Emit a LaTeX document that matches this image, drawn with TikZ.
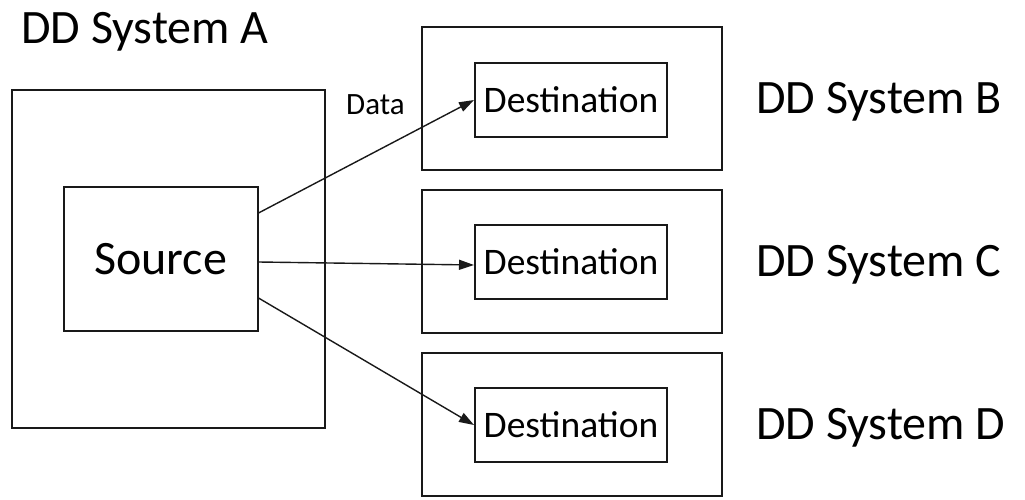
\documentclass[tikz,border=0pt]{standalone}
\usepackage{fontspec}
\setmainfont{Carlito}
\usetikzlibrary{arrows.meta}
\begin{document}
\begin{tikzpicture}[x=1pt,y=-1pt,
  box/.style={draw=black!90,line width=2pt,inner sep=0pt},
  big/.style={inner sep=0pt,font=\fontsize{48}{52}\selectfont},
  dest/.style={box,minimum width=192pt,minimum height=74pt,font=\fontsize{37.5}{40}\selectfont},
  sysbox/.style={box,minimum width=300pt,minimum height=143pt},
  arr/.style={draw=black!90,line width=1.4pt,-{Triangle[length=15pt,width=10pt]}}]
\useasboundingbox (0,0) rectangle (1025,500);
% systems
\node[box,minimum width=313pt,minimum height=337pt] (sysA) at (168.5,259) {};
\node[box,minimum width=194pt,minimum height=144pt,font=\fontsize{48}{52}\selectfont] (src) at (160.5,259) {Source};
\node[sysbox] (sysB) at (572,98.5) {};
\node[sysbox] (sysC) at (572,261) {};
\node[sysbox] (sysD) at (572,424) {};
\node[dest] (dB) at (571,100) {Destination};
\node[dest] (dC) at (571,262) {Destination};
\node[dest] (dD) at (571,425) {Destination};
% labels
\node[big,anchor=base west] (labA) at (21,44) {DD System A};
\node[big,anchor=base west] (labB) at (756,114) {DD System B};
\node[big,anchor=base west] (labC) at (756,276) {DD System C};
\node[big,anchor=base west] (labD) at (756,439) {DD System D};
\node[inner sep=0pt,anchor=base west,font=\fontsize{31}{33}\selectfont] (data) at (346,115) {Data};
% arrows
\draw[arr] (src.east |- 0,213) -- (dB.west);
\draw[arr] (src.east |- 0,262) -- (dC.west |- 0,265);
\draw[arr] (src.east |- 0,298) -- (dD.west);
\end{tikzpicture}
\end{document}
